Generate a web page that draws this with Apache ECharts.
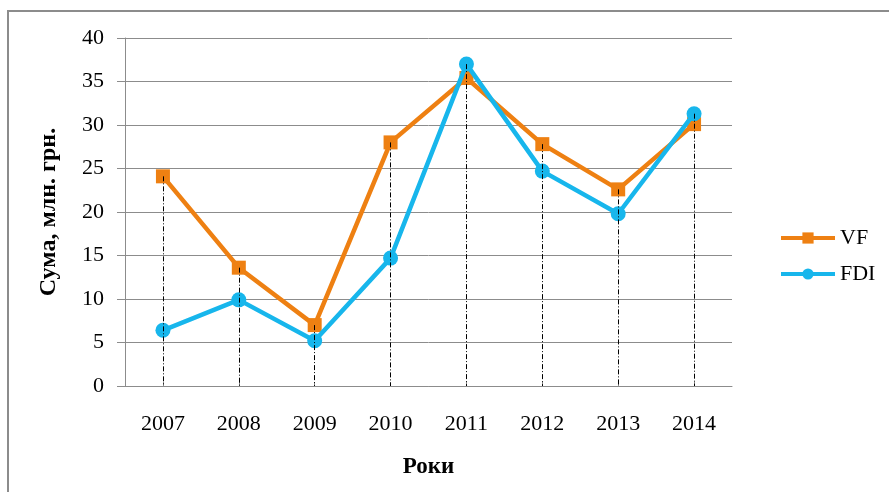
<!DOCTYPE html>
<html>
<head>
<meta charset="utf-8">
<script src="https://cdn.jsdelivr.net/npm/echarts@6/dist/echarts.min.js"></script>
<style>
  html, body { margin: 0; padding: 0; background: #fff; }
  #chart { width: 889px; height: 492px; }
</style>
</head>
<body>
<div id="chart"></div>
<script>
// Years on the category axis
const years = ['2007', '2008', '2009', '2010', '2011', '2012', '2013', '2014'];
// Amounts, млн. грн.
const vfValues = [24.1, 13.6, 7.0, 28.0, 35.4, 27.8, 22.6, 30.1];
const fdiValues = [6.4, 9.9, 5.2, 14.7, 37.0, 24.7, 19.8, 31.3];
// Value-axis ticks
const yTicks = [0, 5, 10, 15, 20, 25, 30, 35, 40];

const serif = "'Liberation Serif', 'Times New Roman', serif";
const orange = '#EE8012';
const blue = '#17B6EC';

// Vertical drop lines from the higher of the two points down to the axis
const dropLines = years.map((y, i) => [
  { coord: [y, Math.max(vfValues[i], fdiValues[i])] },
  { coord: [y, 0] }
]);

const chart = echarts.init(document.getElementById('chart'), null, { renderer: 'canvas' });

chart.setOption({
  backgroundColor: '#fff',
  animation: false,
  graphic: [{
    type: 'rect',
    shape: { x: 8, y: 11, width: 1000, height: 1000 },
    style: { fill: 'none', stroke: '#8c8c8c', lineWidth: 2 },
    silent: true
  }],
  grid: { left: 125, right: 157, top: 38, bottom: 106 },
  legend: {
    orient: 'vertical',
    left: 774,
    top: 222,
    itemWidth: 54,
    itemHeight: 14,
    itemGap: 14,
    lineStyle: { width: 4 },
    itemStyle: { borderWidth: 0 },
    textStyle: { fontFamily: serif, fontSize: 22, color: '#000' },
    data: ['VF', 'FDI']
  },
  xAxis: {
    type: 'category',
    data: years,
    boundaryGap: true,
    name: 'Роки',
    nameLocation: 'middle',
    nameGap: 70,
    nameTextStyle: { fontFamily: serif, fontSize: 23, fontWeight: 'bold', color: '#000' },
    axisLine: { lineStyle: { color: '#8c8c8c', width: 1 } },
    axisTick: { show: true, alignWithLabel: true, inside: true, length: 4, lineStyle: { color: '#8c8c8c' } },
    axisLabel: { fontFamily: serif, fontSize: 22, color: '#000', margin: 27 }
  },
  yAxis: {
    type: 'value',
    min: yTicks[0],
    max: yTicks[yTicks.length - 1],
    interval: yTicks[1] - yTicks[0],
    name: 'Сума, млн. грн.',
    nameLocation: 'middle',
    nameGap: 64,
    nameTextStyle: { fontFamily: serif, fontSize: 24, fontWeight: 'bold', color: '#000' },
    axisLine: { show: true, lineStyle: { color: '#8c8c8c', width: 1 } },
    axisTick: { show: true, length: 8, lineStyle: { color: '#8c8c8c' } },
    axisLabel: { fontFamily: serif, fontSize: 22, color: '#000', margin: 21 },
    splitLine: { lineStyle: { color: '#8c8c8c', width: 1 } }
  },
  series: [
    {
      name: 'VF',
      type: 'line',
      data: vfValues,
      symbol: 'rect',
      symbolSize: 14,
      itemStyle: { color: orange },
      lineStyle: { color: orange, width: 4.5 },
      z: 3
    },
    {
      name: 'FDI',
      type: 'line',
      data: fdiValues,
      symbol: 'circle',
      symbolSize: 15,
      itemStyle: { color: blue },
      lineStyle: { color: blue, width: 4.5 },
      z: 4,
      markLine: {
        silent: true,
        symbol: ['none', 'none'],
        label: { show: false },
        lineStyle: { color: '#000', width: 1, type: [5, 2, 1, 2] },
        data: dropLines,
        z: 5
      }
    }
  ]
});
</script>
</body>
</html>
